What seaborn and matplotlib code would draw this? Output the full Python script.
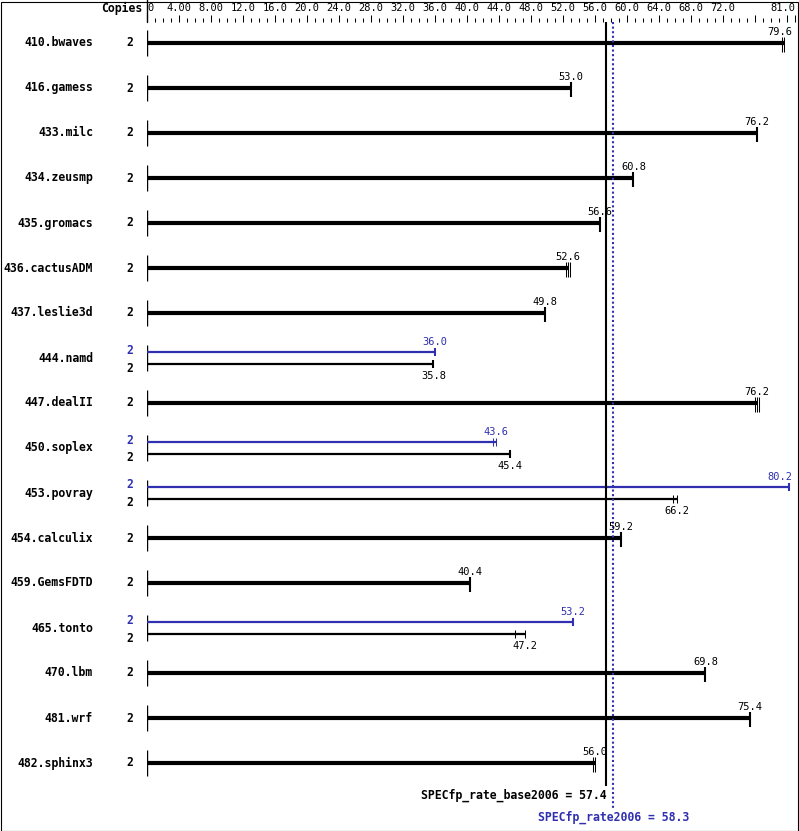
import matplotlib
matplotlib.use("Agg")
import matplotlib.pyplot as plt
import matplotlib.transforms as mtransforms
from matplotlib.patches import Rectangle
import seaborn as sns

# data
benchmarks = ["410.bwaves", "416.gamess", "433.milc", "434.zeusmp", "435.gromacs",
              "436.cactusADM", "437.leslie3d", "444.namd", "447.dealII", "450.soplex",
              "453.povray", "454.calculix", "459.GemsFDTD", "465.tonto", "470.lbm",
              "481.wrf", "482.sphinx3"]
copies = [2] * 17
base_vals = [79.6, 53.0, 76.2, 60.8, 56.6, 52.6, 49.8, 35.8, 76.2, 45.4,
             66.2, 59.2, 40.4, 47.2, 69.8, 75.4, 56.0]
peak_vals = [79.6, 53.0, 76.2, 60.8, 56.6, 52.6, 49.8, 36.0, 76.2, 43.6,
             80.2, 59.2, 40.4, 53.2, 69.8, 75.4, 56.0]
base_runs = [[79.4, 79.6], [53.0], [76.2], [60.8], [56.6], [52.35, 52.6, 52.85],
             [49.8], [35.8], [76.0, 76.2, 76.45], [45.4], [65.7, 66.2], [59.2],
             [40.4], [46.0, 47.2], [69.8], [75.4], [55.8, 56.0]]
peak_runs = [[79.6], [53.0], [76.2], [60.8], [56.6], [52.6], [49.8], [36.0], [76.2],
             [43.2, 43.6], [80.2], [59.2], [40.4], [53.2], [69.8], [75.4], [56.0]]
base_score = 57.4
peak_score = 58.3
base_name = "SPECfp_rate_base2006"
peak_name = "SPECfp_rate2006"
major_ticks = list(range(0, 81, 4)) + [81]
tick_labels = ["0", "4.00", "8.00"] + ["%.1f" % v for v in range(12, 73, 4)] + ["", "", "81.0"]

W, H = 799, 831
X0, X1 = 147, 795          # pixel span of the 0..81 scale
TOP = 22                   # pixel where the scale ticks end
ROW0, STEP = 43, 45        # first row centre and row pitch in pixels
BLUE = "#2f2fb0"

sns.set_theme(style="white", rc={"text.color": "black", "xtick.color": "black"})
plt.rcParams["font.family"] = ["DejaVu Sans Mono", "DejaVu Sans"]


def px(p):
    # vertical pixel offset -> row units
    return p / STEP


def value_label(x, y, val, color="black"):
    # labels near the right edge are pulled inside the frame
    if val > 78.5:
        ax.text(80.7, y, "%.1f" % val, ha="right", va="center", fontsize=7.5, color=color)
    else:
        ax.text(x, y, "%.1f" % val, ha="center", va="center", fontsize=7.5, color=color)


fig = plt.figure(figsize=(W / 100, H / 100), dpi=100)
ax = fig.add_axes([X0 / W, 0, (X1 - X0) / W, 1 - TOP / H])
ax.set_xlim(0, 81)
ax.set_ylim((H - ROW0) / STEP, (TOP - ROW0) / STEP)
for s in ax.spines.values():
    s.set_visible(False)

# top scale
ax.xaxis.tick_top()
ax.set_xticks(major_ticks)
ax.set_xticklabels(tick_labels, fontsize=7.5)
ax.set_xticks(range(0, 82), minor=True)
ax.tick_params(axis="x", which="major", direction="out", length=5, width=0.75,
               pad=1.5, colors="black")
ax.tick_params(axis="x", which="minor", direction="out", length=2.8, width=0.75,
               colors="black")
ax.set_yticks([])
labs = ax.get_xticklabels()
labs[0].set_ha("left")
labs[-1].set_ha("right")
ax.grid(False)

tr_name = mtransforms.blended_transform_factory(fig.transFigure, ax.transData)
fig.text(142 / W, 1 - 8 / H, "Copies", ha="right", va="center",
         fontsize=8.3, fontweight="bold")
ax.plot([0, 0], [px(-ROW0), px(TOP - ROW0)], color="black", lw=1, clip_on=False)

for i, name in enumerate(benchmarks):
    b, p = base_vals[i], peak_vals[i]
    ax.text(93 / W, i, name, transform=tr_name, ha="right", va="center",
            fontsize=8.3, fontweight="bold")
    ax.vlines(0, i - px(13), i + px(13), color="black", lw=1)
    if b == p:
        ax.text(130 / W, i, str(copies[i]), transform=tr_name, ha="center",
                va="center", fontsize=8.3, fontweight="bold")
        ax.hlines(i, 0, b, color="black", lw=3)
        tw = 1.5 if len(base_runs[i]) == 1 else 0.75
        for r in base_runs[i]:
            ax.vlines(r, i - px(6), i + px(9), color="black", lw=tw)
        value_label(b, i - px(11), b)
    else:
        yp, yb = i - px(6), i + px(6)
        ax.text(130 / W, i - px(8), str(copies[i]), transform=tr_name, ha="center",
                va="center", fontsize=8.3, fontweight="bold", color=BLUE)
        ax.text(130 / W, i + px(10), str(copies[i]), transform=tr_name, ha="center",
                va="center", fontsize=8.3, fontweight="bold")
        ax.hlines(yp, 0, p, color=BLUE, lw=1.6)
        tw = 1.5 if len(peak_runs[i]) == 1 else 0.75
        for r in peak_runs[i]:
            ax.vlines(r, yp - px(4), yp + px(4), color=BLUE, lw=tw)
        ax.hlines(yb, 0, b, color="black", lw=1.6)
        tw = 1.5 if len(base_runs[i]) == 1 else 0.75
        for r in base_runs[i]:
            ax.vlines(r, yb - px(4), yb + px(4), color="black", lw=tw)
        value_label(p, yp - px(10), p, BLUE)
        value_label(b, yb + px(12), b)

# overall scores
ax.vlines(base_score, px(TOP - ROW0), px(786 - ROW0), color="black", lw=1.5)
ax.vlines(peak_score, px(TOP - ROW0), px(808 - ROW0), color=BLUE, lw=1.5,
          linestyles=(0, (1, 1.2)))
ax.text(base_score, px(795 - ROW0), "%s = %.1f" % (base_name, base_score),
        ha="right", va="center", fontsize=8.3, fontweight="bold")
ax.text(peak_score, px(817 - ROW0), "%s = %.1f" % (peak_name, peak_score),
        ha="center", va="center", fontsize=8.3, fontweight="bold", color=BLUE)

fig.patches.append(Rectangle((0.5 / W, 0.5 / H), 1 - 2 / W, 1 - 2 / H,
                             transform=fig.transFigure, fill=False,
                             edgecolor="black", lw=0.8))
fig.savefig("out.png", dpi=100)
